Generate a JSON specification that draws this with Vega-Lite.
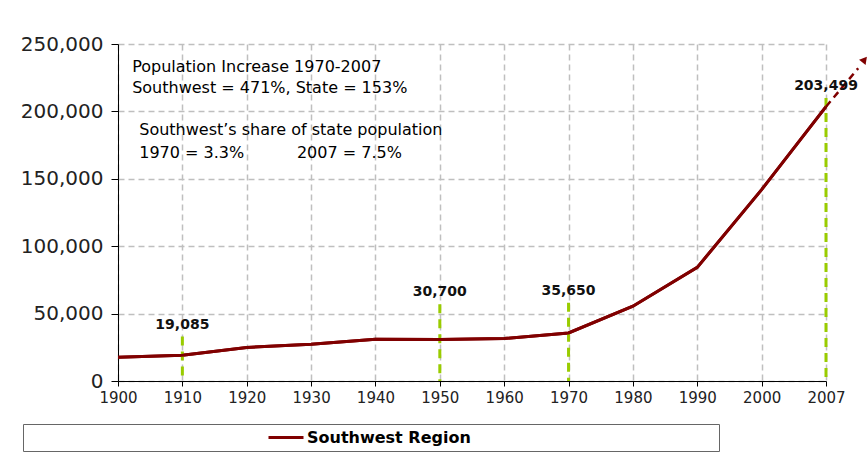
{
  "$schema": "https://vega.github.io/schema/vega-lite/v6.json",
  "width": 708,
  "height": 337,
  "autosize": {"type": "none"},
  "padding": {"left": 118, "top": 44, "right": 41, "bottom": 73},
  "background": "white",
  "config": {"view": {"stroke": null}, "font": "DejaVu Sans"},
  "datasets": {
    "pop": [
      {"year": "1900", "i": 0, "population": 17600, "series": "Southwest Region"},
      {"year": "1910", "i": 1, "population": 19085, "series": "Southwest Region"},
      {"year": "1920", "i": 2, "population": 24900, "series": "Southwest Region"},
      {"year": "1930", "i": 3, "population": 27300, "series": "Southwest Region"},
      {"year": "1940", "i": 4, "population": 30900, "series": "Southwest Region"},
      {"year": "1950", "i": 5, "population": 30700, "series": "Southwest Region"},
      {"year": "1960", "i": 6, "population": 31500, "series": "Southwest Region"},
      {"year": "1970", "i": 7, "population": 35650, "series": "Southwest Region"},
      {"year": "1980", "i": 8, "population": 55500, "series": "Southwest Region"},
      {"year": "1990", "i": 9, "population": 84300, "series": "Southwest Region"},
      {"year": "2000", "i": 10, "population": 142000, "series": "Southwest Region"},
      {"year": "2007", "i": 11, "population": 203499, "series": "Southwest Region"}
    ],
    "markers": [
      {"year": "1910", "i": 1, "label": "19,085", "top": 33000},
      {"year": "1950", "i": 5, "label": "30,700", "top": 57000},
      {"year": "1970", "i": 7, "label": "35,650", "top": 58000},
      {"year": "2007", "i": 11, "label": "203,499", "top": 210000}
    ],
    "arrow": [
      {"i": 11, "population": 203499},
      {"i": 11.5, "population": 232000}
    ],
    "head": [
      {"i": 11.6, "population": 238500}
    ],
    "notes": [
      {"text": "Population Increase 1970-2007", "i": 0.22, "v": 232900},
      {"text": "Southwest = 471%, State = 153%", "i": 0.22, "v": 217400},
      {"text": "Southwest’s share of state population", "i": 0.33, "v": 186200},
      {"text": "1970 = 3.3%", "i": 0.33, "v": 169100},
      {"text": "2007 = 7.5%", "i": 2.78, "v": 169100}
    ]
  },
  "layer": [
    {
      "data": {"name": "pop"},
      "mark": {"type": "line", "strokeWidth": 3},
      "encoding": {
        "x": {
          "field": "i",
          "type": "quantitative",
          "scale": {"domain": [0, 11], "nice": false, "zero": false},
          "axis": {
            "title": null,
            "values": [0, 1, 2, 3, 4, 5, 6, 7, 8, 9, 10, 11],
            "labelExpr": "datum.value == 11 ? '2007' : '' + (1900 + datum.value * 10)",
            "labelFontSize": 15,
            "labelColor": "#222222",
            "labelPadding": 4,
            "labelFlush": false,
            "domainColor": "#000000",
            "domainWidth": 1,
            "tickColor": "#000000",
            "tickSize": 5,
            "grid": true,
            "gridColor": "#BFBFBF",
            "gridDash": [6, 4],
            "gridWidth": 1.5
          }
        },
        "y": {
          "field": "population",
          "type": "quantitative",
          "scale": {"domain": [0, 250000], "nice": false},
          "axis": {
            "title": null,
            "values": [0, 50000, 100000, 150000, 200000, 250000],
            "labelExpr": "format(datum.value, ',.0f')",
            "labelFontSize": 20,
            "labelColor": "#222222",
            "labelPadding": 8,
            "domainColor": "#000000",
            "domainWidth": 1,
            "tickColor": "#000000",
            "tickSize": 7,
            "grid": true,
            "gridColor": "#BFBFBF",
            "gridDash": [6, 4],
            "gridWidth": 1.5
          }
        },
        "color": {
          "field": "series",
          "type": "nominal",
          "scale": {"range": ["#800000"]},
          "legend": {
            "orient": "none",
            "legendX": -95,
            "legendY": 380,
            "direction": "horizontal",
            "title": "\u00a0",
            "titleOrient": "right",
            "titleFontSize": 16,
            "titlePadding": 245,
            "symbolType": "stroke",
            "symbolSize": 1225,
            "symbolStrokeWidth": 3,
            "symbolOffset": 241,
            "labelOffset": 2,
            "clipHeight": 21,
            "labelFontSize": 16,
            "labelFontWeight": "bold",
            "labelColor": "#000000",
            "labelLimit": 2000,
            "strokeColor": "#666666",
            "fillColor": "#FFFFFF",
            "padding": 3
          }
        }
      }
    },
    {
      "data": {"name": "markers"},
      "mark": {"type": "rule", "color": "#99CC00", "strokeWidth": 3, "strokeDash": [9, 6]},
      "encoding": {
        "x": {"field": "i", "type": "quantitative", "title": null},
        "y": {"field": "top", "type": "quantitative", "title": null},
        "y2": {"datum": 0}
      }
    },
    {
      "data": {"name": "arrow"},
      "mark": {"type": "line", "color": "#800000", "strokeWidth": 2.5, "strokeDash": [7, 5], "clip": false},
      "encoding": {
        "x": {"field": "i", "type": "quantitative", "title": null},
        "y": {"field": "population", "type": "quantitative", "title": null}
      }
    },
    {
      "data": {"name": "pop"},
      "mark": {"type": "line", "color": "#800000", "strokeWidth": 3},
      "encoding": {
        "x": {"field": "i", "type": "quantitative", "title": null},
        "y": {"field": "population", "type": "quantitative", "title": null}
      }
    },
    {
      "data": {"name": "head"},
      "mark": {"type": "point", "shape": "triangle-up", "filled": true, "color": "#800000", "size": 70, "angle": 39, "opacity": 1, "clip": false},
      "encoding": {
        "x": {"field": "i", "type": "quantitative", "title": null},
        "y": {"field": "population", "type": "quantitative", "title": null}
      }
    },
    {
      "data": {"name": "markers"},
      "mark": {"type": "text", "fontSize": 14, "fontWeight": "bold", "color": "#111111", "baseline": "middle", "align": "center", "dy": -12},
      "encoding": {
        "x": {"field": "i", "type": "quantitative", "title": null},
        "y": {"field": "top", "type": "quantitative", "title": null},
        "text": {"field": "label"}
      }
    },
    {
      "data": {"name": "notes"},
      "mark": {"type": "text", "fontSize": 16, "color": "#000000", "baseline": "middle", "align": "left"},
      "encoding": {
        "x": {"field": "i", "type": "quantitative", "title": null},
        "y": {"field": "v", "type": "quantitative", "title": null},
        "text": {"field": "text"}
      }
    }
  ]
}
